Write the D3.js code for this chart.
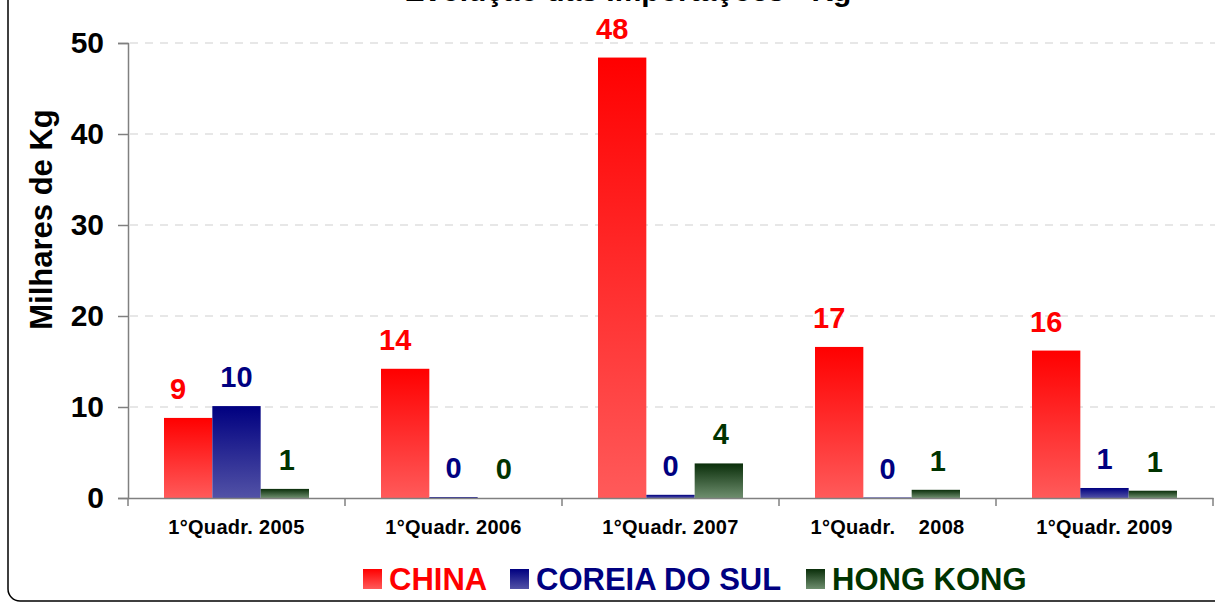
<html>
<head>
<meta charset="utf-8">
<title>Importações - Kg</title>
<style>
  body { margin: 0; background: #fff; }
  text { font-family: Arial, "Liberation Sans", sans-serif; font-weight: bold; }
</style>
</head>
<body>
<div id="chart"></div>
<script src="https://cdn.jsdelivr.net/npm/d3@7/dist/d3.min.js"></script>
<script>
(function(){
  "use strict";

  // data (milhares de Kg)
  var categories = ["1°Quadr. 2005", "1°Quadr. 2006", "1°Quadr. 2007", "1°Quadr.    2008", "1°Quadr. 2009"];
  var seriesNames = ["CHINA", "COREIA DO SUL", "HONG KONG"];
  var china = [8.8, 14.2, 48.4, 16.6, 16.2];
  var coreia = [10.1, 0.1, 0.35, 0.05, 1.1];
  var hongkong = [1.0, 0.0, 3.8, 0.9, 0.8];
  var yTicks = [0, 10, 20, 30, 40, 50];

  var W = 1215, H = 602;
  var margin = { top: 43, right: 2, bottom: 104, left: 128 };

  var series = [
    { name: seriesNames[0], values: china, top: "#ff0000", bottom: "#ff5a5a", label: "#ff0000", dx: -10 },
    { name: seriesNames[1], values: coreia, top: "#000080", bottom: "#5252a6", label: "#000080", dx: 0 },
    { name: seriesNames[2], values: hongkong, top: "#0a2e0a", bottom: "#6e8e6e", label: "#003300", dx: 2 }
  ];

  var svg = d3.select("#chart").append("svg")
    .attr("width", W)
    .attr("height", H);

  // gradients
  var defs = svg.append("defs");
  series.forEach(function(s, i){
    var g = defs.append("linearGradient")
      .attr("id", "grad" + i)
      .attr("x1", 0).attr("y1", 0).attr("x2", 0).attr("y2", 1);
    g.append("stop").attr("offset", "0%").attr("stop-color", s.top);
    g.append("stop").attr("offset", "100%").attr("stop-color", s.bottom);
  });

  // outer frame (rounded, partly out of view)
  svg.append("rect")
    .attr("x", 8).attr("y", -20)
    .attr("width", W + 20).attr("height", H + 19)
    .attr("rx", 12).attr("ry", 12)
    .style("fill", "none")
    .style("stroke", "#000")
    .style("stroke-width", 1.5);

  // title (mostly clipped at the top, as in the source)
  svg.append("text")
    .attr("x", 628).attr("y", 1)
    .attr("text-anchor", "middle")
    .style("font-size", "30px")
    .style("fill", "#000")
    .text("Evolução das Importações - Kg");

  var x0 = d3.scaleBand()
    .domain(categories)
    .range([margin.left, W - margin.right])
    .padding(0);

  // bar group centred in each band, 36px free on each side
  var x1 = d3.scaleBand()
    .domain(d3.range(series.length))
    .range([36, x0.bandwidth() - 36])
    .padding(0);

  var y = d3.scaleLinear()
    .domain([0, 50])
    .range([H - margin.bottom, margin.top]);

  // dashed grid
  svg.append("g")
    .selectAll("line")
    .data(yTicks.filter(function(d){ return d > 0; }))
    .enter().append("line")
      .attr("x1", margin.left + 2)
      .attr("x2", W)
      .attr("y1", function(d){ return y(d); })
      .attr("y2", function(d){ return y(d); })
      .style("stroke", "#cfcfcf")
      .style("stroke-width", 1)
      .style("stroke-dasharray", "8,7");

  // bars
  series.forEach(function(s, si){
    svg.append("g")
      .selectAll("rect")
      .data(s.values)
      .enter().append("rect")
        .attr("x", function(d, i){ return x0(categories[i]) + x1(si); })
        .attr("width", x1.bandwidth())
        .attr("y", function(d){ return y(d); })
        .attr("height", function(d){ return y(0) - y(d); })
        .style("fill", "url(#grad" + si + ")");
  });

  // x axis
  var xAxis = d3.axisBottom(x0).tickSize(0).tickPadding(22);
  var xg = svg.append("g")
    .attr("transform", "translate(0," + y(0) + ")")
    .call(xAxis);
  xg.select(".domain").style("stroke", "#808080").style("stroke-width", 1.5);
  xg.selectAll("text")
    .style("font-size", "20px")
    .style("font-family", "Arial, 'Liberation Sans', sans-serif")
    .style("font-weight", "bold")
    .style("letter-spacing", "0.3px")
    .style("fill", "#000")
    .style("white-space", "pre");

  // ticks between categories
  svg.append("g")
    .selectAll("line")
    .data(d3.range(categories.length + 1))
    .enter().append("line")
      .attr("x1", function(i){ return margin.left + i * x0.step(); })
      .attr("x2", function(i){ return margin.left + i * x0.step(); })
      .attr("y1", y(0))
      .attr("y2", y(0) + 8)
      .style("stroke", "#808080")
      .style("stroke-width", 1.5);

  // y axis
  var yAxis = d3.axisLeft(y).tickValues(yTicks).tickSize(10).tickPadding(14);
  var yg = svg.append("g")
    .attr("transform", "translate(" + margin.left + ",0)")
    .call(yAxis);
  yg.select(".domain").style("stroke", "#808080").style("stroke-width", 1.5);
  yg.selectAll("line").style("stroke", "#808080").style("stroke-width", 1.5);
  yg.selectAll("text")
    .style("font-size", "30px")
    .style("font-family", "Arial, 'Liberation Sans', sans-serif")
    .style("font-weight", "bold")
    .style("fill", "#000");

  // y title
  svg.append("text")
    .attr("transform", "translate(52," + ((y(0) + y(50)) / 2 - 51) + ") rotate(-90)")
    .attr("text-anchor", "middle")
    .style("font-size", "31px")
    .style("fill", "#000")
    .text("Milhares de Kg");

  // value labels
  series.forEach(function(s, si){
    svg.append("g")
      .selectAll("text")
      .data(s.values)
      .enter().append("text")
        .attr("x", function(d, i){ return x0(categories[i]) + x1(si) + x1.bandwidth() / 2 + s.dx; })
        .attr("y", function(d){ return y(d) - 19; })
        .attr("text-anchor", "middle")
        .style("font-size", "29px")
        .style("fill", s.label)
        .text(function(d){ return Math.round(d); });
  });

  // legend
  var legendX = [363, 510, 806];
  var lg = svg.append("g");
  series.forEach(function(s, si){
    lg.append("rect")
      .attr("x", legendX[si]).attr("y", 569)
      .attr("width", 19).attr("height", 20)
      .style("fill", "url(#grad" + si + ")");
    lg.append("text")
      .attr("x", legendX[si] + 26).attr("y", 590)
      .style("font-size", "31px")
      .style("fill", s.label)
      .text(s.name);
  });

})();
</script>
</body>
</html>
